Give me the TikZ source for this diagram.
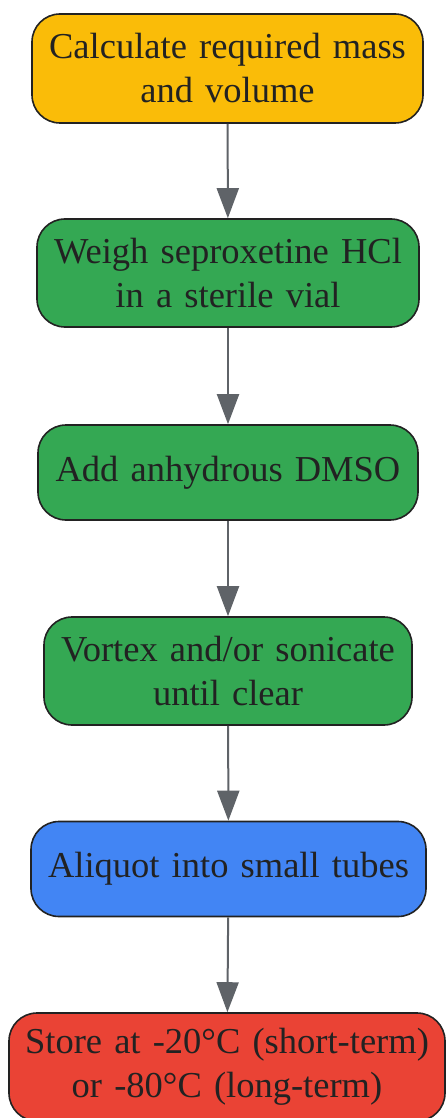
\documentclass[tikz,border=0pt]{standalone}
\usepackage{fontspec}
\setmainfont{Liberation Serif}
\usepackage{tikz}
\usetikzlibrary{arrows.meta,positioning,shapes}
\definecolor{dyellow}{RGB}{250, 188, 8}
\definecolor{dgreen}{RGB}{52, 168, 83}
\definecolor{dblue}{RGB}{66, 133, 244}
\definecolor{dred}{RGB}{234, 67, 53}
\definecolor{dborder}{RGB}{34, 34, 34}
\definecolor{darrow}{RGB}{95, 99, 104}
\tikzstyle{block} = [rectangle, draw=dborder, line width=1.6pt, text=dborder,
  text centered, rounded corners=28pt, inner xsep=0pt, minimum height=95pt,
  font=\fontsize{36.5}{44}\selectfont]
\tikzstyle{line} = [draw, line width=2pt, color=darrow, -{Triangle[length=30pt,width=22pt]}]

\begin{document}
\begin{tikzpicture}[x=1pt,y=1pt]
  \useasboundingbox (0,0) rectangle (446,-1118);
  \node [block, text width=391pt, minimum height=109pt, fill=dyellow] (1) at (227.5,-68.5) {Calculate required mass\\ and volume};
  \node [block, text width=382pt, minimum height=108pt, fill=dgreen] (2) at (228,-273) {Weigh seproxetine HCl\\ in a sterile vial};
  \path [line] (1) -- (2);
  \node [block, text width=380pt, fill=dgreen] (3) at (228,-472.5) {Add anhydrous DMSO};
  \path [line] (2) -- (3);
  \node [block, text width=368pt, minimum height=108pt, fill=dgreen] (4) at (228,-671) {Vortex and/or sonicate\\ until clear};
  \path [line] (3) -- (4);
  \node [block, text width=395pt, fill=dblue] (5) at (228.5,-869) {Aliquot into small tubes};
  \path [line] (4) -- (5);
  \node [block, text width=436pt, minimum height=108pt, fill=dred] (6) at (227,-1067) {Store at -20°C (short-term)\\ or -80°C (long-term)};
  \path [line] (5) -- (6);
\end{tikzpicture}
\end{document}
